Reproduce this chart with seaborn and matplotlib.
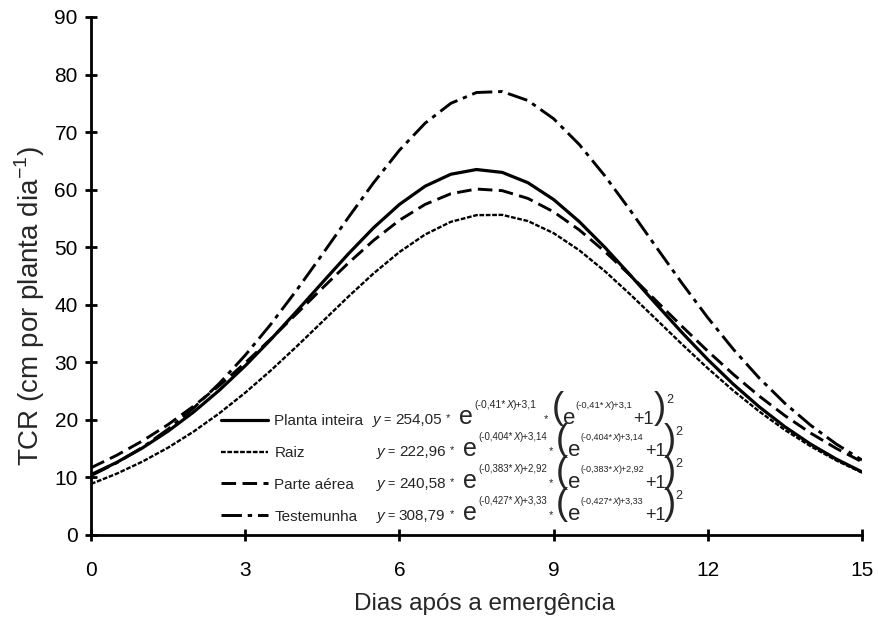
import matplotlib
matplotlib.use("Agg")
import matplotlib.pyplot as plt
import seaborn as sns
import pandas as pd

days = [i * 0.5 for i in range(31)]
planta_inteira = [10.48, 12.61, 15.12, 18.04, 21.39, 25.18, 29.39, 33.99, 38.86, 43.85, 48.78,
                  53.40, 57.43, 60.60, 62.68, 63.50, 63.00, 61.21, 58.29, 54.44, 49.95, 45.07,
                  40.07, 35.15, 30.48, 26.17, 22.27, 18.81, 15.79, 13.19, 10.97]
raiz = [8.87, 10.65, 12.75, 15.18, 17.99, 21.17, 24.72, 28.60, 32.75, 37.05, 41.36, 45.47,
        49.16, 52.21, 54.41, 55.57, 55.62, 54.55, 52.45, 49.47, 45.82, 41.73, 37.44, 33.13,
        28.96, 25.05, 21.47, 18.25, 15.42, 12.95, 10.83]
parte_aerea = [11.68, 13.85, 16.34, 19.19, 22.41, 25.99, 29.90, 34.08, 38.45, 42.88, 47.19,
               51.20, 54.68, 57.44, 59.29, 60.11, 59.83, 58.48, 56.15, 53.00, 49.23, 45.04,
               40.65, 36.23, 31.94, 27.89, 24.14, 20.74, 17.71, 15.04, 12.72]
testemunha = [10.30, 12.55, 15.22, 18.39, 22.09, 26.37, 31.23, 36.64, 42.53, 48.75, 55.08,
              61.23, 66.85, 71.55, 75.00, 76.88, 77.05, 75.49, 72.33, 67.84, 62.37, 56.30,
              49.98, 43.72, 37.75, 32.24, 27.27, 22.88, 19.07, 15.80, 13.03]

labels = ["Planta inteira", "Raiz", "Parte aérea", "Testemunha"]
coef_a = ["254,05", "222,96", "240,58", "308,79"]
coef_b = ["0,41", "0,404", "0,383", "0,427"]
coef_c = ["3,1", "3,14", "2,92", "3,33"]
x_ticks = [0, 3, 6, 9, 12, 15]
y_ticks = [0, 10, 20, 30, 40, 50, 60, 70, 80, 90]

sns.set_style("ticks")
plt.rcParams["font.family"] = ["Liberation Sans", "DejaVu Sans"]

W, H = 879, 619
fig = plt.figure(figsize=(W / 100, H / 100), dpi=100)
ax = fig.add_axes([91 / W, 1 - 535 / H, (862 - 91) / W, (535 - 17) / H])

series = [planta_inteira, raiz, parte_aerea, testemunha]
styles = ["-", (0, (2, 0.7)), (0, (5, 2.2)), (0, (7, 2, 1.5, 2))]
widths = [2.3, 1.7, 2.1, 2.1]
for vals, lab, ls, lw in zip(series, labels, styles, widths):
    df = pd.DataFrame({"x": days, "y": vals})
    sns.lineplot(data=df, x="x", y="y", ax=ax, color="black", linestyle=ls,
                 linewidth=lw, label=lab)

ax.set_xlim(0, 15)
ax.set_ylim(0, 90)
ax.set_xticks(x_ticks)
ax.set_yticks(y_ticks)
ax.tick_params(direction="inout", length=9, width=2, labelsize=15, colors="black")
ax.tick_params(axis="x", pad=14)
ax.tick_params(axis="y", pad=5)
for s in ["left", "bottom"]:
    ax.spines[s].set_linewidth(2)
    ax.spines[s].set_color("black")
for s in ["top", "right"]:
    ax.spines[s].set_visible(False)
ax.set_xlabel("")
ax.set_ylabel("")
fig.text(485 / W, 1 - 604 / H, "Dias após a emergência", fontsize=17.5,
         ha="center", va="center")
fig.text(30 / W, 1 - 306 / H, r"TCR (cm por planta dia$^{\mathregular{-1}}$)",
         fontsize=20, rotation=90, ha="center", va="center")

leg = ax.legend(loc="upper left", bbox_to_anchor=(221 / W, 1 - 414 / H),
                bbox_transform=fig.transFigure, frameon=False, fontsize=11,
                handlelength=3.1, handletextpad=0.4, labelspacing=1.17,
                borderpad=0, borderaxespad=0)

renderer = fig.canvas.get_renderer()


def draw_pieces(x0, base, pieces):
    x = x0
    for txt, size, dy, style, gap in pieces:
        t = fig.text(x / W, 1 - (base - dy) / H, txt, fontsize=size, style=style,
                     ha="left", va="baseline")
        bb = t.get_window_extent(renderer=renderer)
        x += bb.width + gap


baselines = [424, 456, 488, 520]
starts = [373, 377, 377, 377]
for i, (a, b, c, base, x0) in enumerate(zip(coef_a, coef_b, coef_c, baselines, starts)):
    g_exp = 7 if i == 0 else 1
    g_plus = 0 if i == 0 else -2
    es1 = 7.5 if i == 0 else 7
    es2 = 6.8 if i == 0 else 6.5
    pieces = [
        ("y", 11, 0, "italic", 3), ("=", 9, 1, "normal", 4),
        (a, 11, 0, "normal", 4), ("*", 8, 2.5, "normal", 9),
        ("e", 18, 0, "normal", 2),
        ("(-" + b + "*", es1, 16, "normal", 0), ("X", es1, 16, "italic", 0),
        (")+" + c, es1, 16, "normal", g_exp),
        ("*", 8, 1.5, "normal", 3), ("(", 26, 6.5, "normal", 0),
        ("e", 16, 0, "normal", 0),
        ("(-" + b + "*", es2, 16, "normal", 0), ("X", es2, 16, "italic", 0),
        (")+" + c, es2, 16, "normal", 1),
        ("+1", 13, 0, "normal", g_plus), (")", 26, 6.5, "normal", 0),
        ("2", 9, 21, "normal", 0),
    ]
    draw_pieces(x0, base, pieces)

fig.savefig("out.png", dpi=100)
